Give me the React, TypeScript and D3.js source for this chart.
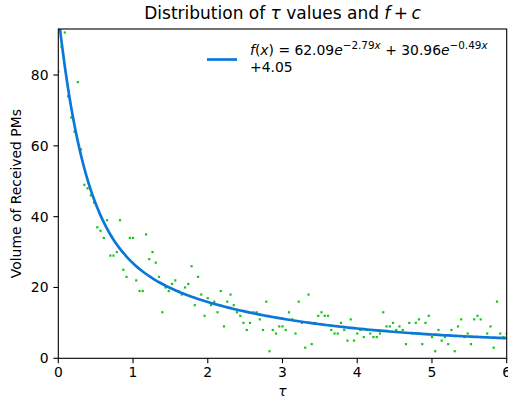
import React from "react";
import * as d3 from "d3";

const tauValues = [
  0, 0.043, 0.087, 0.13, 0.174, 0.217, 0.261, 0.304, 0.348, 0.391, 0.435, 0.478, 0.522, 0.565, 0.609, 0.652, 0.696, 0.739, 0.783, 0.826, 0.87, 0.913, 0.957,
  1.0, 1.043, 1.087, 1.13, 1.174, 1.217, 1.261, 1.304, 1.348, 1.391, 1.435, 1.478, 1.522, 1.565, 1.609, 1.652, 1.696, 1.739, 1.783, 1.826, 1.87, 1.913, 1.957,
  2.0, 2.043, 2.087, 2.13, 2.174, 2.217, 2.261, 2.304, 2.348, 2.391, 2.435, 2.478, 2.522, 2.565, 2.609, 2.652, 2.696, 2.739, 2.783, 2.826, 2.87, 2.913, 2.957,
  3.0, 3.043, 3.087, 3.13, 3.174, 3.217, 3.261, 3.304, 3.348, 3.391, 3.435, 3.478, 3.522, 3.565, 3.609, 3.652, 3.696, 3.739, 3.783, 3.826, 3.87, 3.913, 3.957,
  4.0, 4.043, 4.087, 4.13, 4.174, 4.217, 4.261, 4.304, 4.348, 4.391, 4.435, 4.478, 4.522, 4.565, 4.609, 4.652, 4.696, 4.739, 4.783, 4.826, 4.87, 4.913, 4.957,
  5.0, 5.043, 5.087, 5.13, 5.174, 5.217, 5.261, 5.304, 5.348, 5.391, 5.435, 5.478, 5.522, 5.565, 5.609, 5.652, 5.696, 5.739, 5.783, 5.826, 5.87, 5.913, 5.957,
  6.0,
];

const pmVolumes = [
  81, 88, 92, 74, 68, 64, 78, 59, 49, 48, 46, 44, 37, 36, 34, 39, 29, 29, 30, 39, 25, 23, 34,
  34, 22, 19, 19, 35, 28, 30, 27, 23, 13, 20, 19, 21, 22, 19, 18, 20, 21, 26, 15, 23, 18, 12,
  17, 15, 16, 13, 19, 9, 16, 18, 15, 13, 12, 10, 8, 10, 13, 13, 11, 8, 16, 2, 8, 7, 9,
  9, 8, 13, 11, 7, 16, 10, 3, 18, 4, 10, 12, 13, 12, 12, 8, 7, 7, 10, 8, 5, 11, 5,
  7, 8, 6, 8, 7, 6, 6, 7, 13, 9, 9, 10, 8, 9, 8, 4, 10, 7, 10, 11, 4, 10, 12,
  6, 2, 8, 5, 6, 4, 8, 2, 9, 11, 6, 7, 4, 11, 12, 11, 6, 7, 9, 3, 16, 7, 6,
  7,
];

// fitted model parameters shown in the legend: a*e^(b x) + c*e^(d x) + k
const fitParams = [62.09, -2.79, 30.96, -0.49, 4.05];

const xTicks = [0, 1, 2, 3, 4, 5, 6];
const yTicks = [0, 20, 40, 60, 80];

const W = 508;
const H = 402;
const left = 58.3;
const right = 506.7;
const top = 29;
const bottom = 358.3;

const FONT = "DejaVu Sans, sans-serif";
const BLUE = "#0a78d8";
const GREEN = "#15c515";

export default function App() {
  const x = d3.scaleLinear().domain([0, 6]).range([left, right]);
  const y = d3.scaleLinear().domain([0, 93]).range([bottom, top]);

  const [a, b, c, d, k] = fitParams;
  const model = (t: number) => a * Math.exp(b * t) + c * Math.exp(d * t) + k;
  const line = d3
    .line<number>()
    .x((t) => x(t))
    .y((t) => y(model(t)))
    .curve(d3.curveMonotoneX);

  const tick = 4.9;
  const sw = 1.1;
  const sup = 10.4;

  return (
    <svg width={W} height={H} style={{ position: "absolute", left: 0, top: 0, background: "#fff" }} fontFamily={FONT}>
      <defs>
        <clipPath id="plot">
          <rect x={left} y={top} width={right - left} height={bottom - top} />
        </clipPath>
      </defs>
      <rect x={0} y={0} width={W} height={H} fill="#fff" />

      <g clipPath="url(#plot)">
        {tauValues.map((t, i) => (
          <rect key={i} x={x(t) - 1.1} y={y(pmVolumes[i]) - 1.1} width={2.2} height={2.2} fill={GREEN} />
        ))}
        <path d={line(tauValues) || ""} fill="none" stroke={BLUE} strokeWidth={2.7} />
      </g>

      {/* spines */}
      <rect x={left} y={top} width={right - left} height={bottom - top} fill="none" stroke="#000" strokeWidth={sw} />

      {/* x ticks */}
      {xTicks.map((t) => (
        <g key={"x" + t}>
          <line x1={x(t)} x2={x(t)} y1={bottom} y2={bottom + tick} stroke="#000" strokeWidth={sw} />
          <text x={x(t)} y={377} fontSize={13.9} textAnchor="middle" fill="#000">
            {t}
          </text>
        </g>
      ))}
      {/* y ticks */}
      {yTicks.map((t) => (
        <g key={"y" + t}>
          <line x1={left - tick} x2={left} y1={y(t)} y2={y(t)} stroke="#000" strokeWidth={sw} />
          <text x={left - tick - 4.9} y={y(t)} dy="0.36em" fontSize={13.9} textAnchor="end" fill="#000">
            {t}
          </text>
        </g>
      ))}

      {/* axis labels */}
      <text x={(left + right) / 2} y={396} fontSize={13.9} textAnchor="middle" fontStyle="italic" fill="#000">
        τ
      </text>
      <text
        transform={`translate(21,${(top + bottom) / 2}) rotate(-90)`}
        fontSize={13.9}
        textAnchor="middle"
        fill="#000"
      >
        Volume of Received PMs
      </text>

      {/* title */}
      <text x={(left + right) / 2} y={18.5} fontSize={17} textAnchor="middle" fill="#000">
        Distribution of <tspan fontStyle="italic">τ</tspan> values and <tspan fontStyle="italic">f</tspan>
        <tspan>{"\u2009+\u2009"}</tspan>
        <tspan fontStyle="italic">c</tspan>
      </text>

      {/* legend */}
      <line x1={207} x2={237} y1={59.5} y2={59.5} stroke={BLUE} strokeWidth={2.7} />
      <text x={250} y={55} fontSize={13.9} fill="#000">
        <tspan fontStyle="italic">f</tspan>
        <tspan>(</tspan>
        <tspan fontStyle="italic">x</tspan>
        <tspan>) = 62.09</tspan>
        <tspan fontStyle="italic">e</tspan>
        <tspan dy={-6.5} fontSize={sup}>−2.79</tspan>
        <tspan fontSize={sup} fontStyle="italic">x</tspan>
        <tspan dy={6.5}> + 30.96</tspan>
        <tspan fontStyle="italic">e</tspan>
        <tspan dy={-6.5} fontSize={sup}>−0.49</tspan>
        <tspan fontSize={sup} fontStyle="italic">x</tspan>
      </text>
      <text x={250} y={72} fontSize={13.9} fill="#000">
        +4.05
      </text>
    </svg>
  );
}
